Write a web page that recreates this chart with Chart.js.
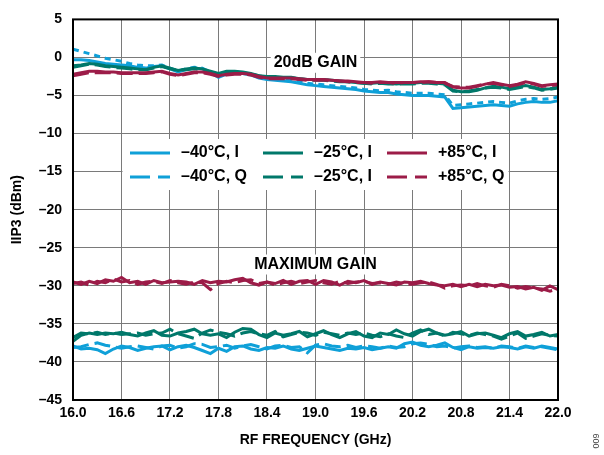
<!DOCTYPE html>
<html>
<head>
<meta charset="utf-8">
<script src="https://cdn.jsdelivr.net/npm/chart.js@4/dist/chart.umd.min.js"></script>
<style>
  html, body { margin: 0; padding: 0; background: #fff; }
  canvas { display: block; }
</style>
</head>
<body>
<canvas id="chart" width="604" height="455"></canvas>
<script>
"use strict";

// RF frequency (GHz)
const freqGHz = [
    16.0, 16.1, 16.2, 16.3, 16.4, 16.5, 16.6, 16.7, 16.8, 16.9,
    17.0, 17.1, 17.2, 17.3, 17.4, 17.5, 17.6, 17.7, 17.8, 17.9,
    18.0, 18.1, 18.2, 18.3, 18.4, 18.5, 18.6, 18.7, 18.8, 18.9,
    19.0, 19.1, 19.2, 19.3, 19.4, 19.5, 19.6, 19.7, 19.8, 19.9,
    20.0, 20.1, 20.2, 20.3, 20.4, 20.5, 20.6, 20.7, 20.8, 20.9,
    21.0, 21.1, 21.2, 21.3, 21.4, 21.5, 21.6, 21.7, 21.8, 21.9,
    22.0
];

const xTicks = [16.0, 16.6, 17.2, 17.8, 18.4, 19.0, 19.6, 20.2, 20.8, 21.4, 22.0];
const yTicks = [5, 0, -5, -10, -15, -20, -25, -30, -35, -40, -45];

const legendLabels = ["–40°C, I", "–25°C, I", "+85°C, I", "–40°C, Q", "–25°C, I", "+85°C, Q"];
const regionLabels = ["20dB GAIN", "MAXIMUM GAIN"];

// IIP3 (dBm), 20dB gain
const gain20_m40_I = [
    -0.3, -0.3, -0.4, -0.6, -0.8, -0.9, -1.0, -1.1, -1.3, -1.4,
    -1.2, -1.1, -1.5, -1.9, -1.6, -1.4, -1.5, -2.0, -2.6, -2.2,
    -2.0, -2.1, -2.3, -2.7, -2.9, -3.0, -3.1, -3.2, -3.4, -3.6,
    -3.7, -3.8, -3.9, -4.0, -4.1, -4.2, -4.4, -4.5, -4.6, -4.6,
    -4.8, -4.9, -5.0, -5.0, -5.0, -5.1, -5.2, -6.7, -6.6, -6.5,
    -6.4, -6.3, -6.2, -6.3, -6.4, -6.1, -5.9, -5.8, -5.9, -5.9,
    -5.7
];
const gain20_m40_Q = [
    1.1, 0.8, 0.5, 0.2, -0.1, -0.3, -0.5, -0.8, -1.0, -1.1,
    -1.1, -1.0, -1.4, -1.8, -1.5, -1.3, -1.4, -1.9, -2.5, -2.1,
    -1.9, -2.0, -2.2, -2.6, -2.8, -2.9, -3.0, -3.0, -3.2, -3.4,
    -3.5, -3.6, -3.7, -3.8, -3.9, -4.0, -4.2, -4.3, -4.4, -4.3,
    -4.5, -4.6, -4.7, -4.7, -4.7, -4.8, -4.9, -6.3, -6.2, -6.1,
    -6.0, -5.9, -5.8, -5.9, -6.0, -5.7, -5.5, -5.4, -5.5, -5.4,
    -5.2
];
const gain20_m25_I = [
    -1.1, -1.0, -0.8, -0.9, -1.1, -1.2, -1.3, -1.4, -1.5, -1.6,
    -1.3, -1.1, -1.4, -1.7, -1.5, -1.4, -1.5, -1.8, -2.1, -1.8,
    -1.8, -1.9, -2.1, -2.4, -2.5, -2.5, -2.6, -2.6, -2.8, -2.9,
    -2.9, -2.9, -3.0, -3.1, -3.2, -3.3, -3.4, -3.4, -3.3, -3.4,
    -3.5, -3.4, -3.4, -3.3, -3.3, -3.4, -3.5, -4.3, -4.5, -4.5,
    -4.3, -4.0, -3.8, -3.9, -4.1, -3.9, -3.7, -3.9, -4.2, -4.1,
    -3.9
];
const gain20_m25_Q = [
    -1.3, -1.1, -0.9, -1.0, -1.2, -1.3, -1.4, -1.5, -1.6, -1.6,
    -1.4, -1.2, -1.5, -1.7, -1.6, -1.5, -1.6, -1.9, -2.2, -1.9,
    -1.9, -2.0, -2.2, -2.4, -2.6, -2.6, -2.7, -2.7, -2.8, -2.9,
    -3.0, -3.0, -3.1, -3.2, -3.2, -3.3, -3.4, -3.5, -3.4, -3.5,
    -3.5, -3.5, -3.5, -3.4, -3.4, -3.5, -3.6, -4.4, -4.5, -4.4,
    -4.2, -4.0, -3.9, -4.0, -4.2, -4.0, -3.8, -4.0, -4.3, -4.2,
    -4.0
];
const gain20_p85_I = [
    -2.2, -2.0, -1.8, -1.8, -1.9, -1.9, -2.0, -2.0, -2.0, -2.0,
    -1.9, -1.8, -2.1, -2.3, -2.1, -1.9, -1.9, -2.1, -2.4, -2.2,
    -2.1, -2.1, -2.2, -2.5, -2.7, -2.7, -2.7, -2.7, -2.8, -2.9,
    -2.9, -2.9, -3.0, -3.1, -3.1, -3.2, -3.3, -3.3, -3.2, -3.3,
    -3.3, -3.3, -3.3, -3.2, -3.2, -3.3, -3.3, -3.9, -4.0, -4.0,
    -3.8, -3.5, -3.3, -3.5, -3.7, -3.5, -3.2, -3.4, -3.7, -3.6,
    -3.5
];
const gain20_p85_Q = [
    -2.4, -2.2, -2.0, -2.0, -2.0, -2.0, -2.1, -2.1, -2.1, -2.1,
    -2.0, -1.9, -2.2, -2.4, -2.2, -2.0, -2.0, -2.2, -2.5, -2.3,
    -2.2, -2.2, -2.3, -2.6, -2.8, -2.8, -2.8, -2.8, -2.9, -3.0,
    -3.0, -3.0, -3.0, -3.1, -3.2, -3.3, -3.3, -3.4, -3.3, -3.3,
    -3.4, -3.3, -3.3, -3.3, -3.2, -3.3, -3.4, -3.8, -3.9, -3.9,
    -3.7, -3.5, -3.4, -3.6, -3.8, -3.6, -3.3, -3.5, -3.8, -3.7,
    -3.6
];

// IIP3 (dBm), maximum gain
const gainMax_m40_I = [
    -37.9, -38.3, -38.2, -38.4, -38.9, -38.3, -37.9, -38.1, -38.5, -38.2,
    -38.0, -37.9, -38.4, -38.0, -37.8, -38.1, -38.5, -38.9, -38.2, -38.6,
    -38.0, -37.9, -38.3, -38.5, -38.1, -38.2, -37.9, -38.3, -38.5, -38.2,
    -37.9, -38.1, -38.3, -38.5, -38.2, -38.3, -38.1, -38.4, -38.2, -38.0,
    -38.2, -37.6, -37.4, -37.8, -38.0, -37.8, -37.5, -38.1, -38.4, -38.0,
    -38.2, -38.1, -38.2, -38.0, -38.1, -38.3, -38.0, -38.2, -37.9, -38.1,
    -38.3
];
const gainMax_m40_Q = [
    -38.1, -38.0, -37.7, -37.5, -37.8, -38.0, -38.2, -38.0, -37.9, -38.1,
    -38.3, -37.9, -37.8, -38.2, -38.0, -37.6, -37.7, -38.1, -38.0, -37.8,
    -38.2, -37.9, -37.7, -38.0, -38.3, -37.9, -37.8, -38.1, -38.0, -38.8,
    -37.8, -37.6, -37.9, -38.0, -37.8, -38.1, -37.9, -38.0, -38.2, -37.9,
    -38.1, -38.0, -37.6, -37.5, -37.7, -38.0, -37.9, -38.2, -38.0, -37.9,
    -38.1, -38.0, -38.2, -37.9, -38.0, -38.2, -37.9, -38.1, -38.0, -38.2,
    -38.4
];
const gainMax_m25_I = [
    -37.3, -36.5, -36.2, -36.4, -36.2, -36.3, -36.1, -36.4, -36.6, -36.2,
    -35.9, -36.5, -36.6, -36.2, -36.0, -35.7, -36.3, -36.5, -36.3, -36.8,
    -36.1, -35.6, -35.7, -36.4, -36.8, -36.2, -36.5, -36.3, -36.0, -36.7,
    -36.3, -35.9, -36.4, -36.8, -36.3, -36.0, -36.6, -36.8, -36.2, -36.4,
    -35.8, -36.3, -36.6, -36.0, -35.7, -36.2, -36.5, -36.3, -36.0, -36.6,
    -36.3, -36.2, -36.5, -36.8, -36.3, -36.0, -36.6, -36.4, -36.1, -36.6,
    -36.4
];
const gainMax_m25_Q = [
    -36.8, -36.2, -36.3, -36.1, -36.4, -36.2, -36.4, -36.3, -36.2, -36.5,
    -36.3, -36.2, -35.7, -36.3, -36.6, -36.9, -36.2, -35.8, -36.1, -36.3,
    -36.6, -36.2, -36.0, -36.3, -36.5, -36.0, -36.7, -36.4, -36.1, -36.2,
    -36.5, -36.1, -36.3, -36.5, -36.2, -36.4, -36.2, -36.5, -36.7, -36.3,
    -36.6, -36.8, -36.2, -35.8, -36.4, -36.2, -36.6, -36.1, -36.3, -36.5,
    -36.2, -36.4, -36.6, -37.0, -36.6, -36.2, -36.9, -36.6, -36.3, -36.5,
    -36.6
];
const gainMax_p85_I = [
    -29.5, -29.8, -29.4, -29.7, -29.2, -29.4, -28.9, -29.6, -29.4, -29.8,
    -29.3, -29.6, -29.5, -29.4, -29.5, -29.8, -29.3, -29.6, -29.4, -29.5,
    -29.2, -29.0, -29.6, -29.9, -29.5, -29.7, -29.3, -29.8, -29.4, -29.3,
    -29.8, -29.3, -29.5, -29.9, -29.4, -29.6, -29.3, -29.8, -29.5, -29.7,
    -29.9, -29.5, -29.6, -29.4, -29.7, -29.9, -30.0, -29.8, -30.1, -29.8,
    -30.1, -29.8, -30.0, -29.9, -30.2, -30.1, -30.4, -30.2, -30.6, -30.0,
    -30.5
];
const gainMax_p85_Q = [
    -29.7, -29.5, -29.9, -29.4, -29.6, -29.1, -29.5, -29.3, -29.8, -29.5,
    -29.4, -29.7, -29.3, -29.6, -29.8, -29.5, -29.6, -30.5, -29.7, -29.4,
    -29.6, -29.3, -29.2, -29.7, -29.5, -29.9, -29.6, -29.4, -29.7, -29.5,
    -29.3, -29.6, -29.8, -29.4, -29.7, -29.5, -29.4, -29.7, -29.6, -29.8,
    -29.5, -29.7, -29.8, -29.6, -29.5, -29.8, -30.3, -30.0, -29.9, -30.0,
    -29.7, -30.0, -30.2, -29.8, -30.0, -30.3, -30.1, -30.3, -30.4, -30.7,
    -30.4
];

const COLOR_M40 = "#0fa0d8";
const COLOR_M25 = "#00786a";
const COLOR_P85 = "#9c1c48";
const DASH_Q = [16, 6];
const DOT_Q = [6, 5];
const FONT = "'Liberation Sans', Arial, Helvetica, sans-serif";

Chart.defaults.font.family = FONT;
Chart.defaults.color = "#000";

const toPoints = ys => ys.map((y, i) => ({ x: freqGHz[i], y }));

const series = (data, color, dash) => ({
    data: toPoints(data),
    borderColor: color,
    borderWidth: 3,
    borderDash: dash || [],
    pointRadius: 0,
    tension: 0,
    fill: false
});

const datasets = [
    series(gainMax_m40_Q, COLOR_M40, DASH_Q),
    series(gainMax_m40_I, COLOR_M40),
    series(gainMax_m25_Q, COLOR_M25, DASH_Q),
    series(gainMax_m25_I, COLOR_M25),
    series(gainMax_p85_Q, COLOR_P85, DASH_Q),
    series(gainMax_p85_I, COLOR_P85),
    series(gain20_p85_Q, COLOR_P85, DASH_Q),
    series(gain20_p85_I, COLOR_P85),
    series(gain20_m25_Q, COLOR_M25, DASH_Q),
    series(gain20_m25_I, COLOR_M25),
    series(gain20_m40_Q, COLOR_M40, DOT_Q),
    series(gain20_m40_I, COLOR_M40)
];

const legendItems = [
    { color: COLOR_M40, dash: [] }, { color: COLOR_M25, dash: [] }, { color: COLOR_P85, dash: [] },
    { color: COLOR_M40, dash: [20, 8] }, { color: COLOR_M25, dash: [20, 8] }, { color: COLOR_P85, dash: [20, 8] }
];

const labelBox = (ctx, text, x, y) => {
    ctx.font = "bold 16px " + FONT;
    const w = ctx.measureText(text).width;
    ctx.fillStyle = "#fff";
    ctx.fillRect(x - w / 2 - 3, y - 10, w + 6, 20);
    ctx.fillStyle = "#000";
    ctx.textAlign = "center";
    ctx.textBaseline = "middle";
    ctx.fillText(text, x, y);
};

const decorations = {
    id: "decorations",
    beforeDatasetsDraw (chart) {
        const { ctx, chartArea: area, scales: { x, y } } = chart;
        ctx.save();

        // legend box, between the 16.6 and 21.4 grid lines
        const bx1 = x.getPixelForValue(16.6) + 1, bx2 = x.getPixelForValue(21.4) - 1;
        ctx.fillStyle = "#fff";
        ctx.fillRect(bx1, 139, bx2 - bx1, 51);

        const cols = [area.left + 57, area.left + 190, area.left + 314];
        const rows = [153, 177];
        ctx.font = "bold 16px " + FONT;
        ctx.textBaseline = "middle";
        ctx.textAlign = "left";
        legendItems.forEach((item, i) => {
            const cx = cols[i % 3], cy = rows[Math.floor(i / 3)];
            ctx.strokeStyle = item.color;
            ctx.lineWidth = 3;
            ctx.setLineDash(item.dash);
            ctx.beginPath();
            ctx.moveTo(cx, cy);
            ctx.lineTo(cx + 40, cy);
            ctx.stroke();
            ctx.setLineDash([]);
            ctx.fillStyle = "#000";
            ctx.fillText(legendLabels[i], cx + 51, cy);
        });

        labelBox(ctx, regionLabels[0], x.getPixelForValue(19.0), y.getPixelForValue(-0.7));
        labelBox(ctx, regionLabels[1], x.getPixelForValue(19.0), y.getPixelForValue(-27.2));
        ctx.restore();
    },
    afterDatasetsDraw (chart) {
        const { ctx, chartArea: area } = chart;
        ctx.save();
        ctx.strokeStyle = "#000";
        ctx.lineWidth = 2;
        ctx.strokeRect(area.left, area.top, area.right - area.left, area.bottom - area.top);
        ctx.restore();
    },
    afterDraw (chart) {
        const { ctx } = chart;
        ctx.save();
        ctx.translate(597, 441);
        ctx.rotate(-Math.PI / 2);
        ctx.font = "9px " + FONT;
        ctx.fillStyle = "#444";
        ctx.textAlign = "center";
        ctx.textBaseline = "middle";
        ctx.fillText("009", 0, 0);
        ctx.restore();
    }
};

new Chart(document.getElementById("chart"), {
    type: "line",
    data: { datasets },
    options: {
        responsive: false,
        animation: false,
        devicePixelRatio: 1,
        layout: { padding: { top: 13, right: 46, left: 0, bottom: 0 } },
        plugins: { legend: { display: false }, tooltip: { enabled: false } },
        scales: {
            x: {
                type: "linear",
                min: 16,
                max: 22,
                afterBuildTicks: s => { s.ticks = xTicks.map(v => ({ value: v })); },
                afterFit: s => { s.height = 55; },
                grid: { color: "#7a7a7a", lineWidth: 1, drawTicks: false },
                border: { display: false },
                ticks: {
                    autoSkip: false,
                    maxRotation: 0,
                    padding: 5,
                    color: "#000",
                    font: { size: 14, weight: "bold" },
                    callback: v => v.toFixed(1)
                },
                title: {
                    display: true,
                    text: "RF FREQUENCY (GHz)",
                    color: "#000",
                    font: { size: 14, weight: "bold" },
                    padding: { top: 0, bottom: 6 }
                }
            },
            y: {
                type: "linear",
                min: -45,
                max: 5,
                afterBuildTicks: s => { s.ticks = yTicks.map(v => ({ value: v })); },
                afterFit: s => { s.width = 73; },
                grid: { color: "#7a7a7a", lineWidth: 1, drawTicks: false },
                border: { display: false },
                ticks: {
                    padding: 11,
                    color: "#000",
                    font: { size: 14, weight: "bold" },
                    callback: v => (v < 0 ? "–" + Math.abs(v) : String(v))
                },
                title: {
                    display: true,
                    text: "IIP3 (dBm)",
                    color: "#000",
                    font: { size: 14, weight: "bold" },
                    padding: { top: 9, bottom: 0 }
                }
            }
        }
    },
    plugins: [decorations]
});
</script>
</body>
</html>
